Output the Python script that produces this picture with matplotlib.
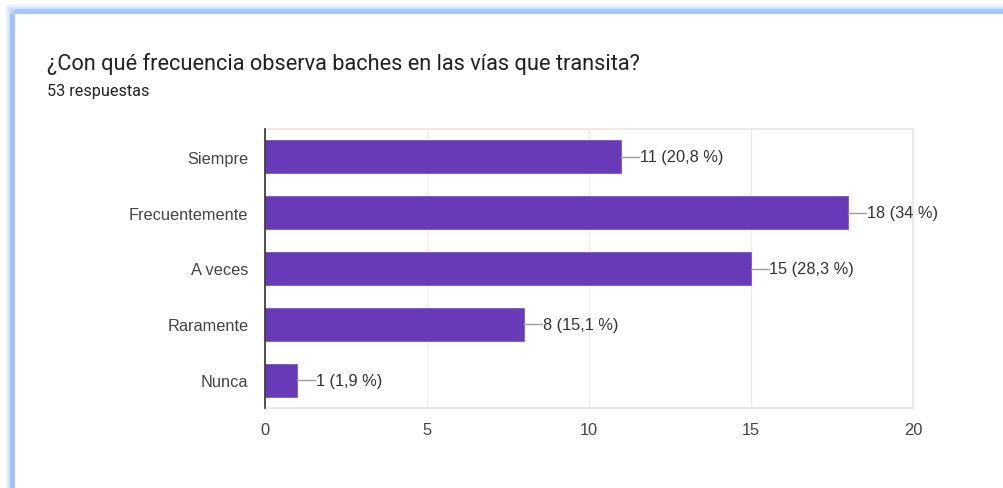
import numpy as np
import matplotlib
matplotlib.use("Agg")
import matplotlib.pyplot as plt

plt.rcParams['font.family'] = ['Roboto', 'DejaVu Sans']
CHART_FONT = ['Liberation Sans', 'DejaVu Sans']

# Survey data
title = "¿Con qué frecuencia observa baches en las vías que transita?"
subtitle = "53 respuestas"
categories = ["Siempre", "Frecuentemente", "A veces", "Raramente", "Nunca"]
counts = [11, 18, 15, 8, 1]
percents = ["20,8", "34", "28,3", "15,1", "1,9"]
xticks = [0, 5, 10, 15, 20]

W, H = 1004, 489
fig = plt.figure(figsize=(W / 100, H / 100), dpi=100)
fig.patch.set_facecolor("white")

# Card frame: soft blue edge along the left and top
bg = fig.add_axes([0, 0, 1, 1])
bg.set_xlim(0, W)
bg.set_ylim(H, 0)
bg.axis("off")
blue = np.array([0.64, 0.78, 0.97])
ramp = np.linspace(0, 1, 11)
edge = np.ones((H, W, 4))
edge[..., :3] = blue
edge[..., 3] = 0
for i, a in enumerate(ramp):
    pos = 4 + i
    edge[4 + i:, pos, 3] = np.maximum(edge[4 + i:, pos, 3], a)
    edge[pos, 4 + i:, 3] = np.maximum(edge[pos, 4 + i:, 3], a)
edge[15:, 10:15, 3] = 1.0
edge[10:15, 15:, 3] = 1.0
edge[15:, 15:, 3] = 0
bg.imshow(edge, extent=(0, W, H, 0), interpolation="bilinear", aspect="auto")

fig.text(47 / W, 1 - 64 / H, title, fontsize=15.7, color="#202124",
         ha="left", va="center")
fig.text(47 / W, 1 - 92 / H, subtitle, fontsize=11.7, color="#202124",
         ha="left", va="center")

# Bar chart
ax = fig.add_axes([265 / W, 1 - 409 / H, (913 - 265) / W, (409 - 130) / H])
y = np.arange(len(categories))
bar_color = "#673AB7"
ax.barh(y, counts, height=0.59, color=bar_color, edgecolor="#7e57c2",
        linewidth=0.6, zorder=3)
ax.set_xlim(0, 20)
ax.set_ylim(len(categories) - 0.5, -0.5)
ax.set_yticks(y)
ax.set_yticklabels(categories, family=CHART_FONT)
ax.set_xticks(xticks)
ax.set_xticklabels([str(t) for t in xticks], family=CHART_FONT)
ax.tick_params(axis="both", length=0, labelsize=11.8, colors="#444444")
ax.tick_params(axis="y", pad=12)
ax.tick_params(axis="x", pad=10)
ax.grid(axis="x", color="#ebebeb", linewidth=1, zorder=0)
for side in ("top", "right", "bottom"):
    ax.spines[side].set_color("#e6e6e6")
    ax.spines[side].set_linewidth(1.2)
ax.spines["left"].set_color("#333333")
ax.spines["left"].set_linewidth(1.2)
ax.spines["left"].set_zorder(4)

# Value labels with short leader lines
px = 20 / (913 - 265)
for yi, c, p in zip(y, counts, percents):
    ax.plot([c, c + 18 * px], [yi, yi], color="#9e9e9e", linewidth=1, zorder=3)
    ax.text(c + 18.5 * px, yi, f"{c} ({p} %)", fontsize=11.8, color="#333333",
            ha="left", va="center", family=CHART_FONT)

fig.savefig("out.png", dpi=100, facecolor="white")
